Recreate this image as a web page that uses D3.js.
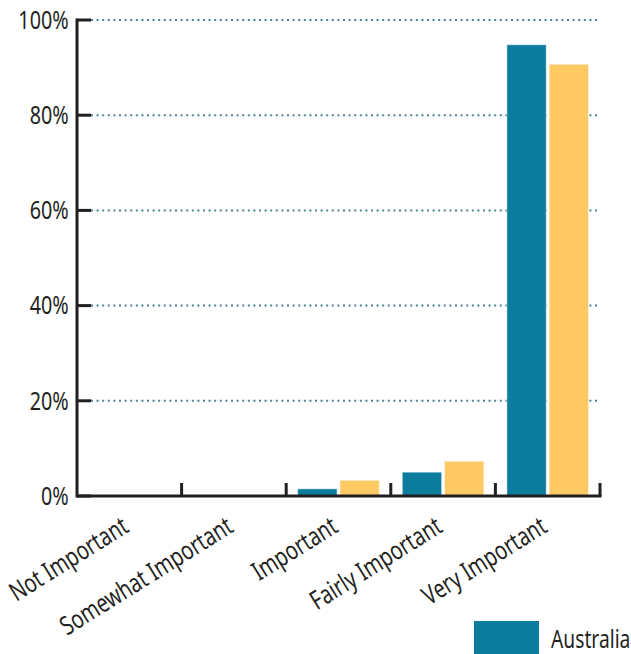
<!DOCTYPE html>
<html lang="en">
<head>
    <meta charset="UTF-8">
    <title>Importance</title>
    <script src="https://cdn.jsdelivr.net/npm/d3@7"></script>
    <style>
        body { margin: 0; background: #fff; }
        text { font-family: "Noto Sans", "DejaVu Sans", sans-serif; fill: #231f20; }
    </style>
</head>
<body>

<script>
    // categories on the x axis
    var categories = ["Not Important", "Somewhat Important", "Important", "Fairly Important", "Very Important"];
    // the two series (only the first one shows in the legend)
    var seriesNames = ["Australia", "Other"];
    var australia = [0, 0, 1.5, 5.0, 94.8];
    var other = [0, 0, 3.3, 7.3, 90.7];
    var yTicks = [0, 20, 40, 60, 80, 100];

    var colors = ["#0b7c9b", "#fec963"];

    var w = 631,
        h = 654;
    var padLeft = 77, padRight = 600, padTop = 20, padBottom = 496;
    // the font of the original is condensed, so squeeze text sideways
    var squeeze = 0.76;

    var svg = d3.select("body")
        .append("svg")
        .attr("width", w)
        .attr("height", h);

    var xScale = d3.scaleBand()
        .domain(categories)
        .range([padLeft, padRight]);

    // bars inside one category
    var xSub = d3.scaleBand()
        .domain(seriesNames)
        .range([11.5, xScale.bandwidth() - 11.5])
        .paddingInner(0.07);

    var yScale = d3.scaleLinear()
        .domain([0, 100])
        .range([padBottom, padTop]);

    // dotted grid lines
    svg.selectAll("line.grid")
        .data(yTicks.filter(function (d) { return d > 0; }))
        .enter()
        .append("line")
        .attr("class", "grid")
        .attr("x1", padLeft + 14)
        .attr("x2", padRight)
        .attr("y1", function (d) { return yScale(d); })
        .attr("y2", function (d) { return yScale(d); })
        .attr("stroke", "#4d8197")
        .attr("stroke-width", 2)
        .attr("stroke-dasharray", "2,3.6");

    // bars
    var rows = categories.map(function (c, i) {
        return [australia[i], other[i]];
    });

    var groups = svg.selectAll("g.cat")
        .data(rows)
        .enter()
        .append("g")
        .attr("transform", function (d, i) {
            return "translate(" + xScale(categories[i]) + ",0)";
        });

    groups.selectAll("rect")
        .data(function (d) { return d; })
        .enter()
        .append("rect")
        .filter(function (d) { return d > 0; })
        .attr("x", function (d, j) { return xSub(seriesNames[j]); })
        .attr("width", xSub.bandwidth())
        .attr("y", function (d) { return yScale(d); })
        .attr("height", function (d) { return padBottom - yScale(d); })
        .attr("fill", function (d, j) { return colors[j]; })
        .attr("stroke", "#ffffff")
        .attr("stroke-opacity", 0.45)
        .attr("stroke-width", 1);

    // y axis
    var yAxis = d3.axisLeft(yScale)
        .tickValues(yTicks)
        .tickSize(0)
        .tickPadding(11)
        .tickFormat(function (d) { return d + "%"; });

    var gy = svg.append("g")
        .attr("transform", "translate(" + padLeft + ",0)")
        .call(yAxis);
    gy.attr("font-family", null);
    gy.select(".domain").remove();
    gy.selectAll("text")
        .attr("font-size", "26px")
        .attr("fill", "#231f20")
        .attr("transform", "scale(" + squeeze + ",1)");

    // inner tick marks on y
    svg.selectAll("line.ytick")
        .data(yTicks)
        .enter()
        .append("line")
        .attr("x1", padLeft)
        .attr("x2", padLeft + 14)
        .attr("y1", function (d) { return yScale(d); })
        .attr("y2", function (d) { return yScale(d); })
        .attr("stroke", "#231f20")
        .attr("stroke-width", 3);

    svg.append("line")
        .attr("x1", padLeft)
        .attr("x2", padLeft)
        .attr("y1", padTop - 1.5)
        .attr("y2", padBottom + 1.5)
        .attr("stroke", "#231f20")
        .attr("stroke-width", 3);

    // x axis line and ticks between categories
    svg.append("line")
        .attr("x1", padLeft)
        .attr("x2", padRight + 1.5)
        .attr("y1", padBottom)
        .attr("y2", padBottom)
        .attr("stroke", "#231f20")
        .attr("stroke-width", 3);

    svg.selectAll("line.xtick")
        .data(categories)
        .enter()
        .append("line")
        .attr("x1", function (d) { return xScale(d) + xScale.bandwidth(); })
        .attr("x2", function (d) { return xScale(d) + xScale.bandwidth(); })
        .attr("y1", padBottom)
        .attr("y2", padBottom - 13)
        .attr("stroke", "#231f20")
        .attr("stroke-width", 3);

    // rotated category labels
    svg.selectAll("text.xlabel")
        .data(categories)
        .enter()
        .append("text")
        .attr("class", "xlabel")
        .attr("text-anchor", "end")
        .attr("font-size", "26px")
        .attr("transform", function (d) {
            var cx = xScale(d) + xScale.bandwidth() / 2 + 1;
            return "translate(" + cx + "," + (padBottom + 35) + ") rotate(-32) scale(" + squeeze + ",1)";
        })
        .text(function (d) { return d; });

    // legend
    var legend = svg.append("g")
        .attr("transform", "translate(474,621)");
    legend.append("rect")
        .attr("width", 65)
        .attr("height", 33)
        .attr("fill", colors[0]);
    legend.append("text")
        .attr("transform", "translate(77,27) scale(" + (squeeze - 0.02) + ",1)")
        .attr("font-size", "26px")
        .text(seriesNames[0]);
</script>

</body>
</html>
